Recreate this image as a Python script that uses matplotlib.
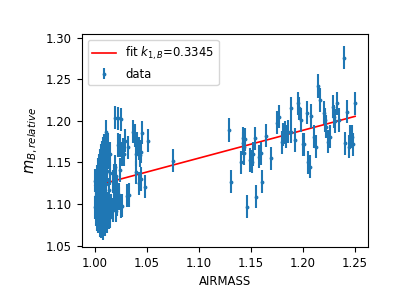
import numpy as np
import matplotlib.pyplot as plt

# airmass and relative B magnitude
# dense group near zenith
x_zen = [1.000, 1.000, 1.001, 1.001, 1.001, 1.001, 1.002, 1.002, 1.002, 1.002,
         1.003, 1.003, 1.003, 1.003, 1.003, 1.004, 1.004, 1.004, 1.004, 1.004,
         1.005, 1.005, 1.005, 1.005, 1.005, 1.005, 1.006, 1.006, 1.006, 1.006,
         1.006, 1.006, 1.007, 1.007, 1.007, 1.007, 1.007, 1.007, 1.008, 1.008,
         1.008, 1.008, 1.008, 1.008, 1.009, 1.009, 1.009, 1.009, 1.009, 1.009,
         1.010, 1.010, 1.010, 1.010, 1.011, 1.011, 1.011, 1.011, 1.012, 1.012,
         1.012, 1.012, 1.013, 1.013, 1.013, 1.014, 1.014, 1.015, 1.015, 1.016,
         1.002, 1.004, 1.006, 1.008, 1.010, 1.003, 1.005, 1.007, 1.009, 1.011]
y_zen = [1.128, 1.096, 1.110, 1.088, 1.120, 1.104, 1.133, 1.093, 1.115, 1.082,
         1.126, 1.099, 1.141, 1.107, 1.079, 1.118, 1.089, 1.146, 1.102, 1.131,
         1.075, 1.113, 1.152, 1.094, 1.124, 1.137, 1.085, 1.158, 1.108, 1.143,
         1.073, 1.121, 1.097, 1.162, 1.131, 1.081, 1.149, 1.114, 1.090, 1.166,
         1.127, 1.071, 1.139, 1.104, 1.155, 1.083, 1.118, 1.170, 1.096, 1.145,
         1.076, 1.133, 1.160, 1.109, 1.187, 1.089, 1.150, 1.124, 1.168, 1.079,
         1.140, 1.101, 1.172, 1.093, 1.156, 1.117, 1.084, 1.137, 1.160, 1.098,
         1.123, 1.110, 1.135, 1.117, 1.143, 1.087, 1.100, 1.126, 1.131, 1.106]

# scattered points at low airmass
x_low = [1.017, 1.017, 1.018, 1.018, 1.019, 1.019, 1.020, 1.020, 1.021, 1.021,
         1.022, 1.022, 1.023, 1.024, 1.024, 1.025, 1.026, 1.026, 1.027, 1.028,
         1.029, 1.031, 1.032, 1.033, 1.037, 1.039, 1.040, 1.041, 1.042, 1.043,
         1.044, 1.045, 1.040, 1.042, 1.044, 1.048, 1.051, 1.075, 1.012, 1.014,
         1.015, 1.019, 1.023, 1.025]
y_low = [1.093, 1.127, 1.134, 1.105, 1.204, 1.145, 1.092, 1.134, 1.100, 1.120,
         1.203, 1.171, 1.111, 1.170, 1.141, 1.202, 1.098, 1.160, 1.165, 1.160,
         1.176, 1.110, 1.168, 1.111, 1.187, 1.182, 1.160, 1.173, 1.167, 1.159,
         1.163, 1.186, 1.138, 1.125, 1.130, 1.121, 1.176, 1.152, 1.100, 1.092,
         1.085, 1.115, 1.107, 1.097]

# points at high airmass
x_high = [1.129, 1.131, 1.140, 1.142, 1.142, 1.143, 1.143, 1.144, 1.146, 1.149,
          1.151, 1.152, 1.154, 1.155, 1.158, 1.160, 1.161, 1.164, 1.169, 1.175,
          1.177, 1.180, 1.181, 1.183, 1.184, 1.186, 1.188, 1.188, 1.192, 1.195,
          1.196, 1.198, 1.200, 1.201, 1.204, 1.205, 1.207, 1.208, 1.211, 1.212,
          1.214, 1.216, 1.220, 1.221, 1.222, 1.224, 1.226, 1.229, 1.230, 1.231,
          1.233, 1.235, 1.239, 1.240, 1.242, 1.244, 1.245, 1.247, 1.248, 1.250]
y_high = [1.189, 1.127, 1.150, 1.179, 1.173, 1.169, 1.161, 1.178, 1.097, 1.153,
          1.151, 1.160, 1.179, 1.109, 1.157, 1.161, 1.127, 1.182, 1.155, 1.198,
          1.205, 1.174, 1.184, 1.186, 1.181, 1.187, 1.215, 1.187, 1.177, 1.221,
          1.215, 1.201, 1.172, 1.172, 1.210, 1.150, 1.145, 1.206, 1.181, 1.169,
          1.242, 1.225, 1.210, 1.201, 1.193, 1.175, 1.181, 1.217, 1.205, 1.200,
          1.221, 1.201, 1.276, 1.173, 1.211, 1.169, 1.181, 1.181, 1.172, 1.221]

y_err = 0.014
k1 = 0.3345
b0 = 0.7873

airmass = np.array(x_zen + x_low + x_high)
mag = np.array(y_zen + y_low + y_high)

plt.rcParams['font.size'] = 8.4
fig, ax = plt.subplots(figsize=(4.09, 2.92), dpi=100)
fig.subplots_adjust(left=0.2, right=0.9, bottom=0.154, top=0.884)

ax.plot(airmass, k1 * airmass + b0, 'r', lw=1.2, label='fit $k_{1,B}$=0.3345')
ax.errorbar(airmass, mag, yerr=y_err, fmt='.', color='C0', ms=3.5, elinewidth=1.5,
            label='data')
ax.set_xlim(0.9875, 1.2625)
ax.set_ylim(1.0484, 1.3045)
ax.set_xticks([1.00, 1.05, 1.10, 1.15, 1.20, 1.25])
ax.set_xlabel('AIRMASS')
ax.set_ylabel('$m_{B, relative}$', fontsize=10.5)
ax.legend(loc='upper left')

fig.savefig('out.png', dpi=100)
